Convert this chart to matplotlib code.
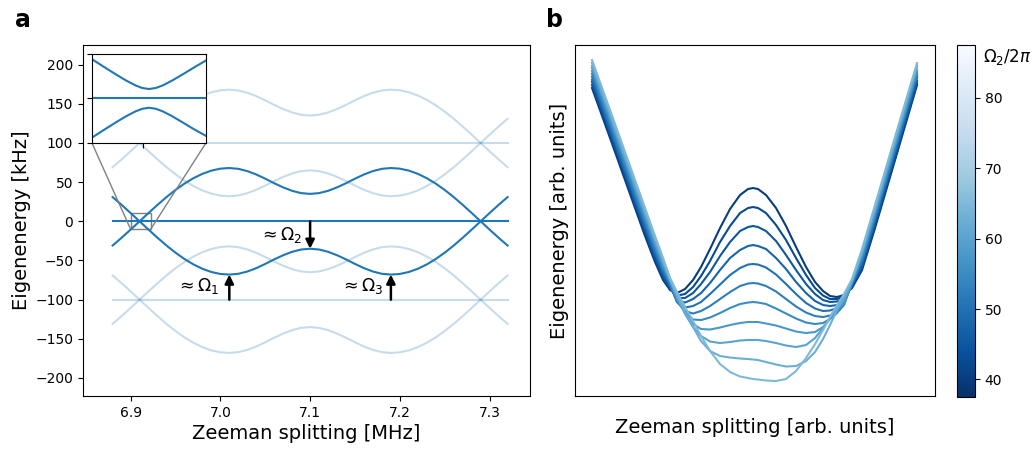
import numpy as np
import matplotlib
matplotlib.use("Agg")
import matplotlib.pyplot as plt
from matplotlib import cm, colors
from mpl_toolkits.axes_grid1.inset_locator import mark_inset

# ---------------- panel a : eigenenergies vs Zeeman splitting ----------------
zeeman = [6.88, 6.89, 6.90, 6.91, 6.92, 6.93, 6.94, 6.95, 6.96, 6.97, 6.98, 6.99,
          7.00, 7.01, 7.02, 7.03, 7.04, 7.05, 7.06, 7.07, 7.08, 7.09, 7.10, 7.11,
          7.12, 7.13, 7.14, 7.15, 7.16, 7.17, 7.18, 7.19, 7.20, 7.21, 7.22, 7.23,
          7.24, 7.25, 7.26, 7.27, 7.28, 7.29, 7.30, 7.31, 7.32]
# kHz
branch_up = [-30.9, -21.0, -10.6, 0.0, 10.6, 21.0, 30.9, 40.0, 48.1, 55.0, 60.6, 64.7,
             67.2, 68.0, 67.0, 64.1, 59.8, 54.4, 48.6, 43.3, 38.9, 36.0, 35.0, 36.0,
             38.9, 43.3, 48.6, 54.4, 59.8, 64.1, 67.0, 68.0, 67.2, 64.7, 60.6, 55.0,
             48.1, 40.0, 30.9, 21.0, 10.6, 0.0, -10.6, -21.0, -30.9]
branch_dn = [30.9, 21.0, 10.6, 0.0, -10.6, -21.0, -30.9, -40.0, -48.1, -55.0, -60.6, -64.7,
             -67.2, -68.0, -67.0, -64.1, -59.8, -54.4, -48.6, -43.3, -38.9, -36.0, -35.0, -36.0,
             -38.9, -43.3, -48.6, -54.4, -59.8, -64.1, -67.0, -68.0, -67.2, -64.7, -60.6, -55.0,
             -48.1, -40.0, -30.9, -21.0, -10.6, 0.0, 10.6, 21.0, 30.9]
replica_shift = [100, -100]   # faint copies of the manifold (kHz)

# zoom on the avoided crossing
inset_x = [6.9, 6.90225, 6.9045, 6.90675, 6.90855, 6.9099, 6.91125,
           6.9126, 6.91395, 6.91575, 6.918, 6.92025, 6.9225]
inset_up = [8.8, 7.15, 5.54, 4.0, 2.94, 2.34, 2.1, 2.33, 2.9, 3.95, 5.45, 7.0, 8.5]
inset_dn = [-8.8, -7.15, -5.54, -4.0, -2.94, -2.34, -2.1, -2.33, -2.9, -3.95, -5.45, -7.0, -8.4]

arrow_x = [7.01, 7.10, 7.19]
arrow_from = [-100, 0, -100]
arrow_to = [-68, -35, -68]
arrow_lbl = [r'$\approx\Omega_1$', r'$\approx\Omega_2$', r'$\approx\Omega_3$']
lbl_x = [6.999, 7.091, 7.182]
lbl_y = [-82, -18, -82]

# ---------------- panel b : schematic level for several Omega_2 ----------------
pb_x = [592, 610, 630, 645, 655, 663, 670, 677, 685, 693, 701, 710, 720, 730, 740, 748, 753,
        758, 766, 776, 786, 796, 806, 815, 823, 830, 837, 844, 852, 862, 875, 895, 917]
e_40 = [88, 138, 194, 236, 262, 280, 290, 293, 289, 280, 267, 249, 228, 209, 195, 189, 188,
        189, 195, 208, 226, 247, 267, 282, 291, 296, 297, 295, 288, 270, 228, 160, 85]
e_42 = [85, 135, 191, 233, 259, 278, 289, 295.5, 294, 287, 276, 261, 242, 226, 213, 208, 207,
        208, 213, 225, 240, 258, 275, 288, 295.5, 299, 299, 296, 287, 268, 226, 158, 83]
e_45 = [82, 132, 188, 230, 257, 276, 288, 298, 298, 293, 284, 272, 256, 242, 231, 227, 226,
        227, 231, 241, 255, 270, 284, 294, 300, 302, 301.5, 298, 286, 266, 223, 155, 81]
e_47 = [80, 130, 186, 228, 254, 273, 286, 300, 302.5, 299, 293, 283, 270, 258, 250, 246, 245,
        246, 249, 258, 269, 282, 293, 301, 305, 306, 305, 300, 285, 264, 221, 153, 78]
e_50 = [77, 127, 183, 225, 252, 271, 285, 302, 307.5, 306, 302, 294, 284.5, 275, 268, 264.5, 264,
        264.5, 267.5, 274.5, 284, 294, 303, 308.5, 311, 310.5, 308, 302, 284, 262, 219, 151, 76]
e_52 = [74, 124, 180, 222, 249, 269, 284, 302, 311, 313.5, 311, 306, 299, 292, 286, 283.5, 283,
        283.5, 286, 291.5, 299, 306.5, 312.5, 316, 317, 315.5, 311, 304, 283.5, 259.5, 216.5, 148.5, 74]
e_55 = [71, 121, 177, 219, 246, 267, 282, 300, 312, 319.5, 320, 317.5, 313, 308, 304, 302.5, 302,
        302.5, 304, 308.5, 313.5, 318.5, 322.5, 324, 323, 319, 313, 305, 282.5, 257.5, 214, 146, 72]
e_57 = [68, 118, 174, 216, 244, 265, 281, 298, 313, 324, 329, 329.5, 327.5, 325, 323, 322, 322,
        322, 323.5, 325.5, 328.5, 331.5, 333, 332, 327, 319, 309, 303, 281.5, 255, 212, 144, 70]
e_60 = [66, 116, 172, 214, 241, 262, 280, 297, 314, 327, 336, 341.5, 343, 342, 340.5, 340, 340,
        340, 341, 343, 345.5, 347, 345, 338, 328, 318, 307, 300, 281, 253, 210, 142, 67]
e_62 = [63, 113, 169, 211, 239, 260, 279, 295, 312, 327, 341, 351, 356, 357.5, 358.5, 359, 359.5,
        360, 362, 364.5, 366.5, 366, 361, 352, 339, 325, 310, 297, 280, 251, 207, 139, 65]
e_65 = [60, 110, 166, 208, 236, 258, 278, 292, 307, 321, 336, 351, 364, 372, 376.5, 378, 379,
        379.5, 380.5, 381, 379, 371, 358, 344, 330, 317, 305, 294, 279, 249, 205, 137, 63]
omega2 = [40, 42.5, 45, 47.5, 50, 52.5, 55, 57.5, 60, 62.5, 65]
levels_b = [e_40, e_42, e_45, e_47, e_50, e_52, e_55, e_57, e_60, e_62, e_65]

dark = '#1f77b4'

fig = plt.figure(figsize=(10.35, 4.49), dpi=100)
ax = fig.add_axes([0.0802, 0.118, 0.4319, 0.7817])

for s in replica_shift:
    ax.plot(zeeman, np.array(branch_up) + s, color=dark, alpha=0.25, lw=1.5)
    ax.plot(zeeman, np.array(branch_dn) + s, color=dark, alpha=0.25, lw=1.5)
    ax.plot([zeeman[0], zeeman[-1]], [s, s], color=dark, alpha=0.25, lw=1.5)
ax.plot(zeeman, branch_up, color=dark, lw=1.5)
ax.plot(zeeman, branch_dn, color=dark, lw=1.5)
ax.plot([zeeman[0], zeeman[-1]], [0, 0], color=dark, lw=1.5)

for xa, y0, y1, t, tx, ty in zip(arrow_x, arrow_from, arrow_to, arrow_lbl, lbl_x, lbl_y):
    ax.annotate('', xy=(xa, y1), xytext=(xa, y0),
                arrowprops=dict(arrowstyle='-|>', color='k', lw=1.8,
                                mutation_scale=13, shrinkA=0, shrinkB=0))
    ax.text(tx, ty, t, ha='right', va='center', fontsize=12.5)

ax.set_xlim(6.847, 7.345)
ax.set_ylim(-223, 225)
ax.set_xticks([6.9, 7.0, 7.1, 7.2, 7.3])
ax.set_yticks([-200, -150, -100, -50, 0, 50, 100, 150, 200])
ax.tick_params(labelsize=10)
ax.set_xlabel('Zeeman splitting [MHz]', fontsize=14, labelpad=3)
ax.set_ylabel('Eigenenergy [kHz]', fontsize=14, labelpad=3)

axins = ax.inset_axes([0.02, 0.721, 0.255, 0.254])
axins.plot(inset_x, inset_up, color=dark, lw=1.5)
axins.plot(inset_x, inset_dn, color=dark, lw=1.5)
axins.plot([inset_x[0], inset_x[-1]], [0, 0], color=dark, lw=1.5)
axins.set_xlim(6.9, 6.9225)
axins.set_ylim(-10, 10)
axins.set_xticks([6.91])
axins.set_yticks([-10, 0, 10])
axins.set_xticklabels([])
axins.set_yticklabels([])
mark_inset(ax, axins, loc1=3, loc2=4, fc='none', ec='0.5')

# panel b
axb = fig.add_axes([0.5556, 0.118, 0.3478, 0.7817])
cmap = plt.get_cmap('Blues_r')
norm = colors.Normalize(vmin=37.5, vmax=87.5)
for om, lev in zip(omega2, levels_b):
    axb.plot(pb_x, -np.array(lev), color=cmap(norm(om)), lw=1.5)
axb.set_xlim(575, 935)
axb.set_ylim(-396, -45)
axb.set_xticks([])
axb.set_yticks([])
axb.set_xlabel('Zeeman splitting [arb. units]', fontsize=14, labelpad=16)
axb.set_ylabel('Eigenenergy [arb. units]', fontsize=14, labelpad=4)

cax = fig.add_axes([0.9246, 0.1158, 0.0174, 0.784])
cb = fig.colorbar(cm.ScalarMappable(norm=norm, cmap=cmap), cax=cax)
cb.set_ticks([40, 50, 60, 70, 80])
cb.ax.tick_params(labelsize=10)
fig.text(0.950, 0.872, r'$\Omega_2/2\pi$', fontsize=12, ha='left', va='center')

fig.text(0.022, 0.955, 'a', fontsize=17, fontweight='bold', ha='center', va='center')
fig.text(0.536, 0.955, 'b', fontsize=17, fontweight='bold', ha='center', va='center')

fig.savefig('out.png', dpi=100)
